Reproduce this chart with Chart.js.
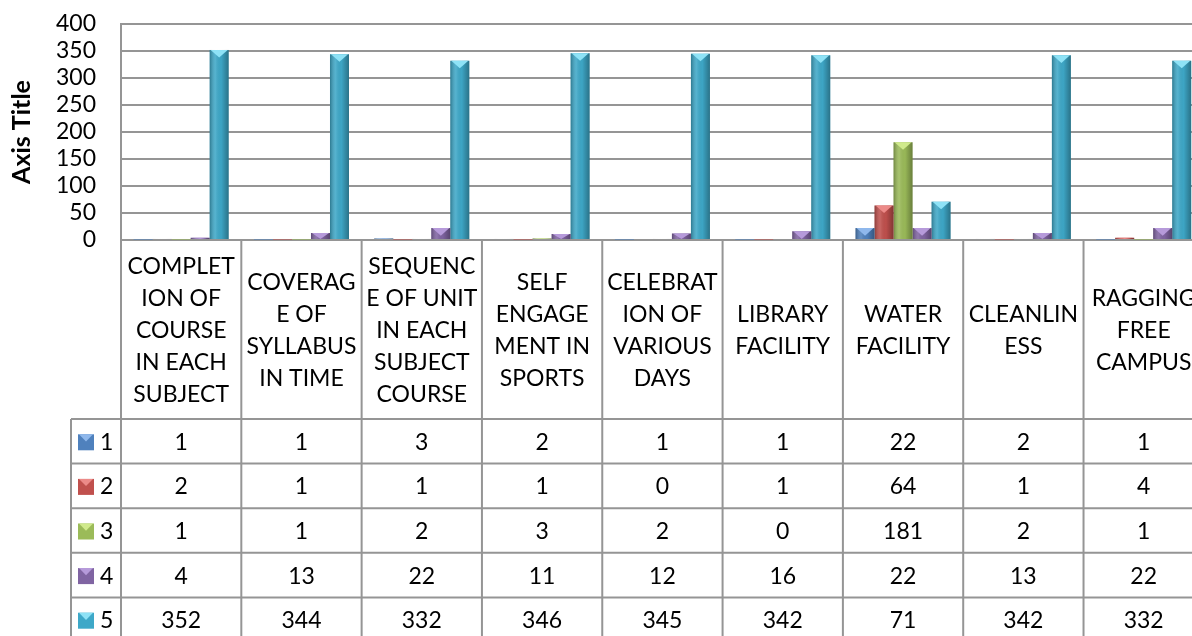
<!DOCTYPE html>
<html>
<head>
<meta charset="utf-8">
<title>Survey chart</title>
<script src="https://cdn.jsdelivr.net/npm/chart.js@4.4.1/dist/chart.umd.min.js"></script>
<style>
  html, body { margin: 0; padding: 0; background: #fff; overflow: hidden; }
  #wrap { width: 1215px; height: 642px; }
</style>
</head>
<body>
<div id="wrap"><canvas id="myChart" width="1215" height="642"></canvas></div>
<script>
'use strict';

// categories (header lines as shown in the table)
let categories = [
  ['COMPLET', 'ION OF', 'COURSE', 'IN EACH', 'SUBJECT'],
  ['COVERAG', 'E OF', 'SYLLABUS', 'IN TIME'],
  ['SEQUENC', 'E OF UNIT', 'IN EACH', 'SUBJECT', 'COURSE'],
  ['SELF', 'ENGAGE', 'MENT IN', 'SPORTS'],
  ['CELEBRAT', 'ION OF', 'VARIOUS', 'DAYS'],
  ['LIBRARY', 'FACILITY'],
  ['WATER', 'FACILITY'],
  ['CLEANLIN', 'ESS'],
  ['RAGGING', 'FREE', 'CAMPUS']
];
let seriesNames = ['1', '2', '3', '4', '5'];
let series1 = [1, 1, 3, 2, 1, 1, 22, 2, 1];
let series2 = [2, 1, 1, 1, 0, 1, 64, 1, 4];
let series3 = [1, 1, 2, 3, 2, 0, 181, 2, 1];
let series4 = [4, 13, 22, 11, 12, 16, 22, 13, 22];
let series5 = [352, 344, 332, 346, 345, 342, 71, 342, 332];
let yMax = 400;
let yStep = 50;

let allSeries = [series1, series2, series3, series4, series5];
let colors = ['#4f81bd', '#c0504d', '#9bbb59', '#8064a2', '#3ea8c8'];
let capColors = ['#8fb8ec', '#ec8a88', '#d0ea8c', '#b69ada', '#8ee2f6'];

const ROW_H = 44.6;
const HEADER_H = 179;
const FONT = 'Lato, "Noto Sans", sans-serif';
const GRID = '#959595';

// shading + pyramid cap on each bar, like the old 3D office style
const barShade = {
  id: 'barShade',
  afterDatasetDraw(chart, args) {
    const ctx = chart.ctx;
    const i = args.index;
    ctx.save();
    args.meta.data.forEach(function(bar) {
      let w = bar.width;
      let left = bar.x - w / 2;
      let h = bar.base - bar.y;
      if (h <= 0) return;
      let g = ctx.createLinearGradient(left, 0, left + w, 0);
      g.addColorStop(0, 'rgba(0,0,0,0.28)');
      g.addColorStop(0.3, 'rgba(255,255,255,0.12)');
      g.addColorStop(0.6, 'rgba(0,0,0,0.02)');
      g.addColorStop(1, 'rgba(0,0,0,0.32)');
      ctx.fillStyle = g;
      ctx.fillRect(left, bar.y, w, h);
      let capH = Math.min(w * 0.4, h);
      ctx.fillStyle = capColors[i];
      ctx.beginPath();
      ctx.moveTo(left + 1, bar.y);
      ctx.lineTo(left + w - 1, bar.y);
      ctx.lineTo(bar.x, bar.y + capH);
      ctx.closePath();
      ctx.fill();
    });
    ctx.restore();
  }
};

// data table under the axis
const dataTable = {
  id: 'dataTable',
  afterDraw(chart) {
    const ctx = chart.ctx;
    const x = chart.scales.x;
    const n = categories.length;
    const cellW = (x.right - x.left) / n;
    const headTop = x.top;
    const rowsTop = headTop + HEADER_H;
    const legendLeft = 71;
    const bottom = rowsTop + ROW_H * allSeries.length;

    ctx.save();
    ctx.strokeStyle = GRID;
    ctx.lineWidth = 2;
    ctx.beginPath();
    for (let c = 0; c <= n; c++) {
      let cx = x.left + c * cellW;
      ctx.moveTo(cx, headTop);
      ctx.lineTo(cx, bottom);
    }
    ctx.moveTo(legendLeft, rowsTop);
    ctx.lineTo(legendLeft, bottom);
    for (let r = 0; r <= allSeries.length; r++) {
      let ry = rowsTop + r * ROW_H;
      ctx.moveTo(legendLeft, ry);
      ctx.lineTo(x.right, ry);
    }
    ctx.stroke();

    ctx.fillStyle = '#000';
    ctx.font = '23px ' + FONT;
    ctx.textBaseline = 'middle';
    for (let r = 0; r < allSeries.length; r++) {
      let cy = rowsTop + r * ROW_H + ROW_H / 2 + 1;
      // legend key
      let kx = 78, ky = cy - 8, ks = 16;
      ctx.fillStyle = colors[r];
      ctx.fillRect(kx, ky, ks, ks);
      ctx.fillStyle = capColors[r];
      ctx.beginPath();
      ctx.moveTo(kx + 1, ky);
      ctx.lineTo(kx + ks - 1, ky);
      ctx.lineTo(kx + ks / 2, ky + ks * 0.45);
      ctx.closePath();
      ctx.fill();
      ctx.fillStyle = '#000';
      ctx.textAlign = 'left';
      ctx.fillText(seriesNames[r], 100, cy);
      ctx.textAlign = 'center';
      for (let c = 0; c < n; c++) {
        ctx.fillText(String(allSeries[r][c]), x.getPixelForValue(c), cy);
      }
    }
    ctx.restore();
  }
};

const config = {
  type: 'bar',
  data: {
    labels: categories,
    datasets: allSeries.map(function(vals, i) {
      return {
        label: seriesNames[i],
        data: vals,
        backgroundColor: colors[i],
        borderWidth: 0,
        barPercentage: 1,
        categoryPercentage: 0.79
      };
    })
  },
  options: {
    responsive: false,
    animation: false,
    devicePixelRatio: 1,
    layout: { padding: { top: 24, left: 0, right: 6, bottom: ROW_H * 5 } },
    plugins: {
      legend: { display: false },
      tooltip: { enabled: true }
    },
    scales: {
      x: {
        grid: { display: false },
        border: { display: false },
        ticks: {
          color: '#000',
          font: { family: FONT, size: 23, lineHeight: 1.39 },
          maxRotation: 0,
          autoSkip: false,
          crossAlign: 'center',
          padding: 19
        },
        afterFit: function(scale) { scale.height = HEADER_H; }
      },
      y: {
        min: 0,
        max: yMax,
        // invisible tick marks give the label gap without pushing the top down
        grid: { color: GRID, lineWidth: 2, drawTicks: true, tickLength: 25, tickColor: 'rgba(0,0,0,0)' },
        border: { display: true, color: GRID, width: 2 },
        ticks: {
          stepSize: yStep,
          autoSkip: false,
          color: '#000',
          font: { family: FONT, size: 23 },
          padding: 0
        },
        title: {
          display: true,
          text: 'Axis Title',
          color: '#000',
          font: { family: FONT, size: 25, weight: 'bold' },
          padding: { top: 7, bottom: 0 }
        },
        afterFit: function(scale) { scale.width = 121; }
      }
    }
  },
  plugins: [barShade, dataTable]
};

const myChart = new Chart(document.getElementById('myChart'), config);
</script>
</body>
</html>
